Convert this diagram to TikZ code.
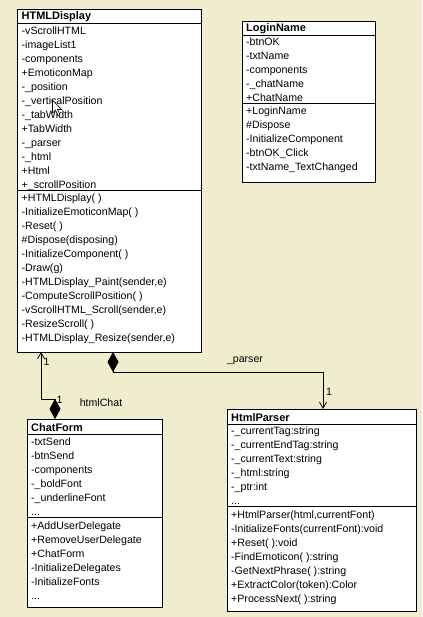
\documentclass[tikz,border=0pt]{standalone}
\usepackage{fontspec}
\setmainfont{Liberation Sans}
\usetikzlibrary{arrows.meta}
\definecolor{bgc}{RGB}{240,237,206}
\tikzset{
  box/.style={draw=black, fill=white, line width=0.8bp},
  sep/.style={draw=black, line width=0.8bp},
  rowtxt/.style={anchor=base west, inner sep=0pt, font=\fontsize{10.65}{12}\selectfont},
  ttl/.style={anchor=base west, inner sep=0pt, font=\fontsize{11}{12}\selectfont\bfseries},
  lbl/.style={inner sep=0pt, font=\fontsize{10.65}{12}\selectfont},
  conn/.style={draw=black, line width=0.8bp},
  comp/.style={conn, {Diamond[length=20bp,width=11bp]}-{Straight Barb[length=6bp,width=7bp]}},
}
\newcommand\tdots{.\kern0pt.\kern0pt.}
\newcommand\rowlist[3]{%
  \foreach \t [count=\i from 0] in {#3} {\node[rowtxt] at (#1, #2+\i*14) {\t};}}
\begin{document}
\begin{tikzpicture}[x=1bp,y=-1bp]
\fill[bgc] (0,0) rectangle (422,617);
\useasboundingbox (0,0) rectangle (422,617);
% HTMLDisplay
\node[box, minimum width=184bp, minimum height=343bp, inner sep=0pt, anchor=north west] (hd) at (17,9) {};
\draw[sep] (17,23) -- (201,23);
\draw[sep] (17,190) -- (201,190);
\node[ttl] (hdt) at (21.5,20) {HTMLDisplay};
\rowlist{21.5}{34.5}{-vScrollHTML,-imageList1,-components,+EmoticonMap,-\_position,-\_verticalPosition,-\_tabWidth,+TabWidth,-\_parser,-\_html,+Html,+\_scrollPosition}
\rowlist{21.5}{201.5}{+HTMLDisplay( ),-InitializeEmoticonMap( ),-Reset( ),\#Dispose(disposing),-InitializeComponent( ),-Draw(g),{-HTMLDisplay\_Paint(sender,e)},-ComputeScrollPosition( ),{-vScrollHTML\_Scroll(sender,e)},-ResizeScroll( ),{-HTMLDisplay\_Resize(sender,e)}}
% cursor
\draw[fill=white, line width=0.6bp] (52.5,100) -- (52.5,113) -- (55.5,110) -- (58,115.5) -- (60,114.5) -- (57.5,109.5) -- (61.5,109.5) -- cycle;
% LoginName
\node[box, minimum width=133bp, minimum height=161bp, inner sep=0pt, anchor=north west] (ln) at (242,21) {};
\draw[sep] (242,35) -- (375,35);
\draw[sep] (242,103.5) -- (375,103.5);
\node[ttl] (lnt) at (246,32) {LoginName};
\rowlist{246}{45.5}{-btnOK,-txtName,-components,-\_chatName,+ChatName}
\rowlist{246}{114.5}{+LoginName,\#Dispose,-InitializeComponent,-btnOK\_Click,-txtName\_TextChanged}
% ChatForm
\node[box, minimum width=135bp, minimum height=188bp, inner sep=0pt, anchor=north west] (cf) at (27,419) {};
\draw[sep] (27,434) -- (162,434);
\draw[sep] (27,517.5) -- (162,517.5);
\node[ttl] (cft) at (31,431) {ChatForm};
\rowlist{31}{445.5}{-txtSend,-btnSend,-components,-\_boldFont,-\_underlineFont,\tdots}
\rowlist{31}{529}{+AddUserDelegate,+RemoveUserDelegate,+ChatForm,-InitializeDelegates,-InitializeFonts,\tdots}
% HtmlParser
\node[box, minimum width=189bp, minimum height=202bp, inner sep=0pt, anchor=north west] (hp) at (227,409) {};
\draw[sep] (227,424) -- (416,424);
\draw[sep] (227,506.5) -- (416,506.5);
\node[ttl] (hpt) at (231,421) {HtmlParser};
\rowlist{231}{434.5}{-\_currentTag:string,-\_currentEndTag:string,-\_currentText:string,-\_html:string,-\_ptr:int,\tdots}
\rowlist{231}{518}{{+HtmlParser(html,currentFont)},-InitializeFonts(currentFont):void,+Reset( ):void,-FindEmoticon( ):string,-GetNextPhrase( ):string,+ExtractColor(token):Color,+ProcessNext( ):string}
% connector anchors
\coordinate (cfA) at (55,419);
\coordinate (hdA) at (41,352);
\coordinate (hdB) at (113,352);
\coordinate (hpA) at (323,409);
\draw[comp] (cfA) -- ++(0,-20) -| (hdA);
\draw[comp] (hdB) -- ++(0,20) -| (hpA);
% labels
\node[lbl] (l1) at (46.5,362) {1};
\node[lbl] (l2) at (59.5,400) {1};
\node[lbl] (l3) at (101,403) {htmlChat};
\node[lbl] (l4) at (245,361) {\_parser};
\node[lbl] (l5) at (329,392) {1};
\end{tikzpicture}
\end{document}
